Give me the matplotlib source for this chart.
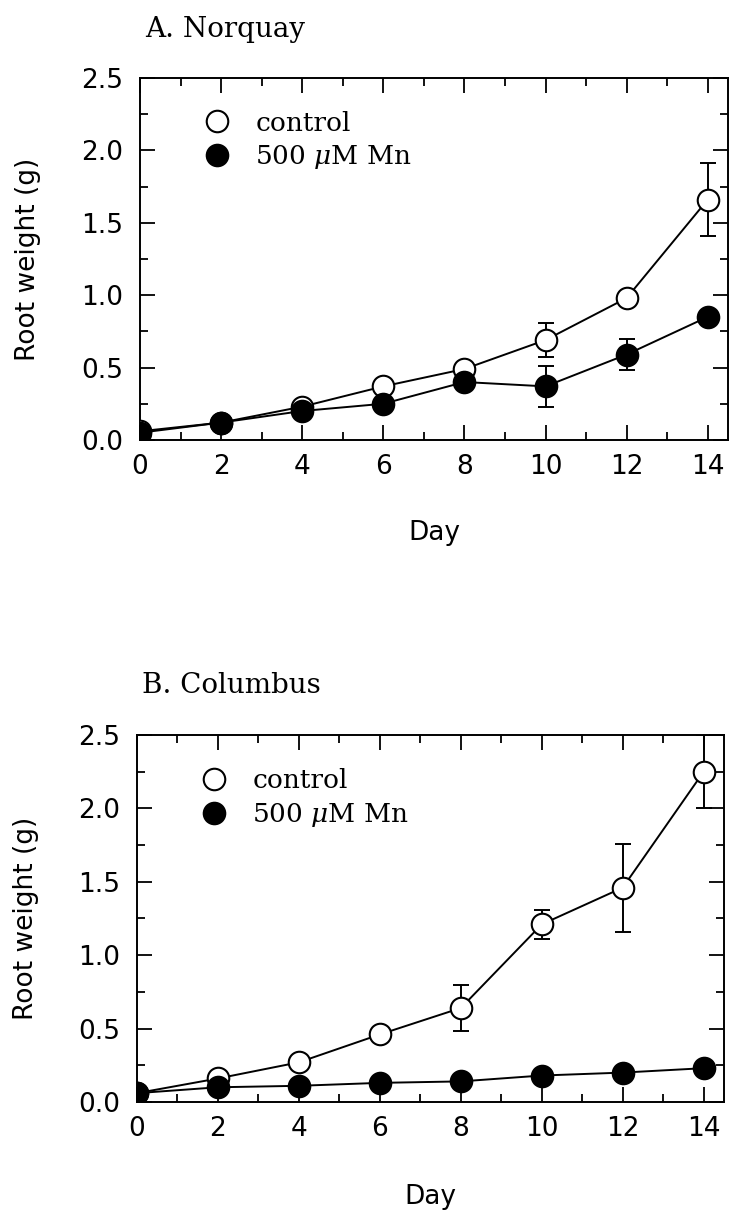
import matplotlib
matplotlib.use("Agg")
import matplotlib.pyplot as plt
from matplotlib.ticker import MultipleLocator

plt.rcParams["font.family"] = "DejaVu Sans"
plt.rcParams["mathtext.fontset"] = "dejavuserif"

days = [0, 2, 4, 6, 8, 10, 12, 14]

# A. Norquay
norquay_control = [0.06, 0.12, 0.23, 0.37, 0.49, 0.69, 0.98, 1.66]
norquay_control_err = [0, 0, 0, 0, 0, 0.12, 0, 0.25]
norquay_mn = [0.05, 0.12, 0.20, 0.25, 0.40, 0.37, 0.59, 0.85]
norquay_mn_err = [0, 0, 0, 0, 0, 0.14, 0.11, 0]

# B. Columbus
columbus_control = [0.06, 0.16, 0.27, 0.46, 0.64, 1.21, 1.46, 2.25]
columbus_control_err = [0, 0, 0, 0, 0.16, 0.10, 0.30, 0.25]
columbus_mn = [0.06, 0.10, 0.11, 0.13, 0.14, 0.18, 0.20, 0.23]
columbus_mn_err = [0, 0, 0, 0, 0, 0, 0, 0]

titles = ["A. Norquay", "B. Columbus"]
labels = ["control", r"500 $\mu$M Mn"]

SERIF = "DejaVu Serif"
FS = 19


def draw_panel(ax, title, ctrl, ctrl_err, mn, mn_err):
    # error bars first, markers on top
    ax.errorbar(days, ctrl, yerr=ctrl_err, fmt="none", ecolor="black",
                elinewidth=1.4, capsize=5.5, capthick=1.4, zorder=2)
    ax.errorbar(days, mn, yerr=mn_err, fmt="none", ecolor="black",
                elinewidth=1.4, capsize=5.5, capthick=1.4, zorder=2)
    ax.plot(days, ctrl, color="black", lw=1.4, marker="o", ms=15.5,
            mfc="white", mec="black", mew=1.5, label=labels[0], zorder=3)
    ax.plot(days, mn, color="black", lw=1.4, marker="o", ms=15.5,
            mfc="black", mec="black", mew=1.5, label=labels[1], zorder=4)

    ax.set_xlim(0, 14.5)
    ax.set_ylim(0, 2.5)
    ax.xaxis.set_major_locator(MultipleLocator(2))
    ax.xaxis.set_minor_locator(MultipleLocator(1))
    ax.yaxis.set_major_locator(MultipleLocator(0.5))
    ax.yaxis.set_minor_locator(MultipleLocator(0.25))
    ax.yaxis.set_major_formatter("{x:.1f}")

    ax.tick_params(which="both", direction="in", top=True, right=True,
                   width=1.3, labelsize=FS)
    ax.tick_params(which="major", length=10.5)
    ax.tick_params(which="minor", length=5.5)
    ax.tick_params(axis="x", pad=10)
    ax.tick_params(axis="y", pad=12)
    for sp in ax.spines.values():
        sp.set_linewidth(1.4)

    ax.set_xlabel("Day", fontsize=FS)
    ax.xaxis.label.set_va("center")
    ax.xaxis.set_label_coords(0.5, -0.258)
    ax.set_ylabel("Root weight (g)", fontsize=FS)
    ax.yaxis.label.set_va("center")
    ax.yaxis.set_label_coords(-0.19, 0.5)

    ax.text(0.008, 1.135, title, transform=ax.transAxes, fontsize=20,
            family=SERIF, ha="left", va="center")

    leg = ax.legend(loc="upper left", bbox_to_anchor=(0.131, 0.91),
                    frameon=False, handlelength=0, numpoints=1,
                    handletextpad=1.45, labelspacing=0.3, borderpad=0,
                    borderaxespad=0, prop={"family": SERIF, "size": FS})
    return leg


fig = plt.figure(figsize=(7.3, 12.14), dpi=100, facecolor="w")
ax_a = fig.add_axes([0.1918, 0.6376, 0.8055, 0.2982])
ax_b = fig.add_axes([0.1877, 0.0923, 0.804, 0.3023])

draw_panel(ax_a, titles[0], norquay_control, norquay_control_err,
           norquay_mn, norquay_mn_err)
draw_panel(ax_b, titles[1], columbus_control, columbus_control_err,
           columbus_mn, columbus_mn_err)

plt.savefig("out.png", dpi=100)
